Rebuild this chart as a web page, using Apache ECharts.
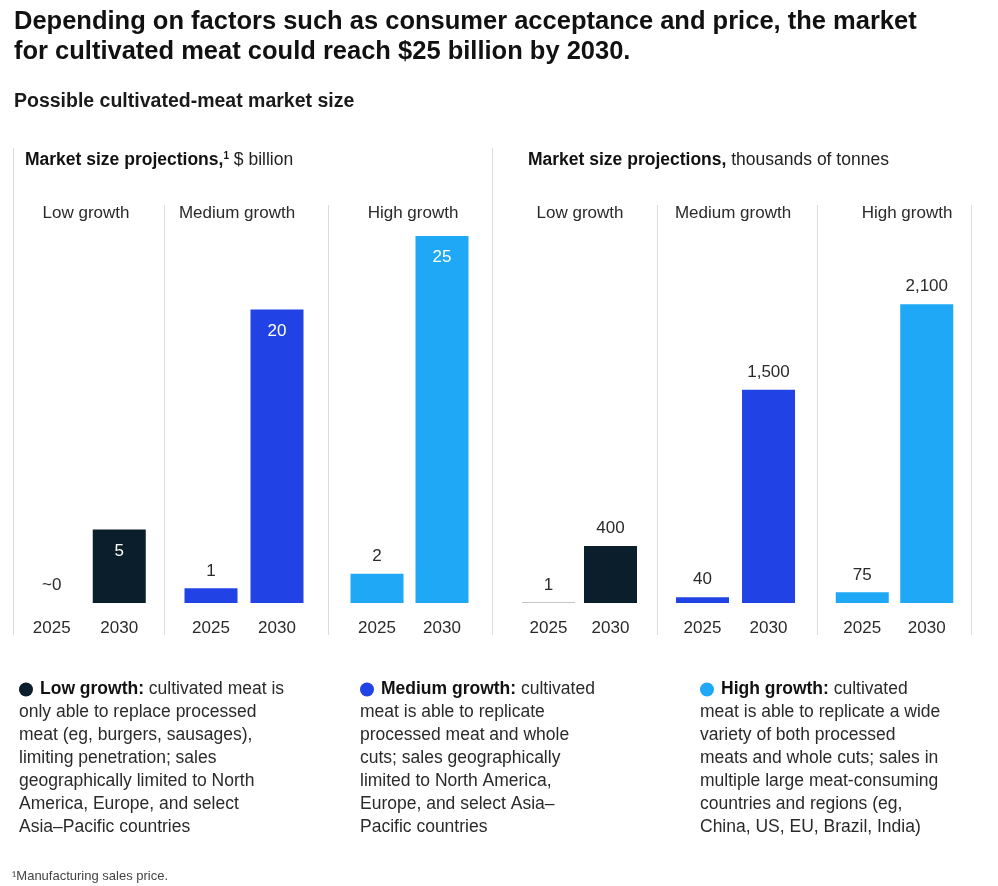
<!DOCTYPE html>
<html>
<head>
<meta charset="utf-8">
<script src="https://cdn.jsdelivr.net/npm/echarts@6/dist/echarts.min.js"></script>
<style>
html,body{margin:0;padding:0;background:#fff;}
#chart{width:998px;height:886px;}
</style>
</head>
<body>
<div id="chart"></div>
<script>
// ---- data ----
const years = ['2025', '2030'];
const scenarios = ['Low growth', 'Medium growth', 'High growth'];
const lowBillion = [0, 5];
const mediumBillion = [1, 20];
const highBillion = [2, 25];
const lowTonnes = [1, 400];
const mediumTonnes = [40, 1500];
const highTonnes = [75, 2100];

// ---- style / layout ----
const FONT = '"Liberation Sans", Arial, sans-serif';
const scenarioColors = ['#0b1e2b', '#2143e6', '#1fa8f5'];
const gridLefts = [18, 178, 344.5, 517.5, 669.5, 830];
const gridWidths = [135, 132, 130, 124, 132, 129];
const panelCenters = [86, 237, 413, 580, 733, 907];
const gridTop = 236, gridBottom = 283;
const billionMax = 25, tonnesMax = 2580;

const panels = [
  {data: lowBillion, color: 0, max: billionMax, inside: true},
  {data: mediumBillion, color: 1, max: billionMax, inside: true},
  {data: highBillion, color: 2, max: billionMax, inside: true},
  {data: lowTonnes, color: 0, max: tonnesMax, inside: false},
  {data: mediumTonnes, color: 1, max: tonnesMax, inside: false},
  {data: highTonnes, color: 2, max: tonnesMax, inside: false}
];

const fmt = v => v === 0 ? '~0' : v.toLocaleString('en-US');

const grid = [], xAxis = [], yAxis = [], series = [];
panels.forEach((p, i) => {
  grid.push({left: gridLefts[i], width: gridWidths[i], top: gridTop, bottom: gridBottom});
  xAxis.push({
    type: 'category', gridIndex: i, data: years,
    axisLine: {show: false}, axisTick: {show: false},
    axisLabel: {fontSize: 17, color: '#2a2a2a', margin: 17, fontFamily: FONT}
  });
  yAxis.push({type: 'value', gridIndex: i, min: 0, max: p.max, show: false, splitLine: {show: false}});
  series.push({
    type: 'bar', xAxisIndex: i, yAxisIndex: i, barWidth: 53,
    itemStyle: {color: scenarioColors[p.color]},
    data: p.data.map((v, j) => ({
      value: v,
      label: (p.inside && j === 1)
        ? {show: true, position: 'insideTop', distance: 13, color: '#fff', fontSize: 17, fontFamily: FONT, formatter: d => fmt(d.value)}
        : {show: true, position: 'top', distance: 9, color: '#2a2a2a', fontSize: 17, fontFamily: FONT, formatter: d => fmt(d.value)}
    }))
  });
});

const graphic = [];

// titles
graphic.push({type: 'text', left: 14, top: 7, style: {
  text: 'Depending on factors such as consumer acceptance and price, the market\nfor cultivated meat could reach $25 billion by 2030.',
  font: 'bold 25.5px ' + FONT, fill: '#111', lineHeight: 30}});
graphic.push({type: 'text', left: 14, top: 92, style: {
  text: 'Possible cultivated-meat market size', font: 'bold 19.5px ' + FONT, fill: '#1a1a1a'}});

// section headers
graphic.push({type: 'text', left: 25, top: 151, style: {
  text: '{b|Market size projections,}{sup|1} $ billion',
  font: '17.5px ' + FONT, fill: '#222',
  rich: {b: {fontWeight: 'bold', fontSize: 17.5, fontFamily: FONT, fill: '#111'},
         sup: {fontSize: 10, fontWeight: 'bold', fontFamily: FONT, fill: '#111', verticalAlign: 'top', padding: [0,0,7,0]}}}});
graphic.push({type: 'text', left: 528, top: 151, style: {
  text: '{b|Market size projections,} thousands of tonnes',
  font: '17.5px ' + FONT, fill: '#222',
  rich: {b: {fontWeight: 'bold', fontSize: 17.5, fontFamily: FONT, fill: '#111'}}}});

// scenario labels
panelCenters.forEach((cx, i) => {
  graphic.push({type: 'text', x: cx, y: 213, style: {
    text: scenarios[i % 3], font: '17px ' + FONT, fill: '#2a2a2a', align: 'center', verticalAlign: 'middle'}});
});

// separators
const vline = (x, y1, y2) => graphic.push({type: 'line', shape: {x1: x, y1: y1, x2: x, y2: y2},
  style: {stroke: '#dcdcdc', lineWidth: 1}});
vline(13.5, 148, 635);
vline(164.5, 205, 635);
vline(328.5, 205, 635);
vline(492.5, 148, 635);
vline(657.5, 205, 635);
vline(817.5, 205, 635);
vline(971.5, 205, 635);

// legend descriptions
const descs = [
  {x: 19, name: 'Low growth:', text: ' cultivated meat is\nonly able to replace processed\nmeat (eg, burgers, sausages),\nlimiting penetration; sales\ngeographically limited to North\nAmerica, Europe, and select\nAsia\u2013Pacific countries'},
  {x: 360, name: 'Medium growth:', text: ' cultivated\nmeat is able to replicate\nprocessed meat and whole\ncuts; sales geographically\nlimited to North America,\nEurope, and select Asia\u2013\nPacific countries'},
  {x: 700, name: 'High growth:', text: ' cultivated\nmeat is able to replicate a wide\nvariety of both processed\nmeats and whole cuts; sales in\nmultiple large meat-consuming\ncountries and regions (eg,\nChina, US, EU, Brazil, India)'}
];
descs.forEach((d, i) => {
  graphic.push({type: 'text', left: d.x, top: 678, style: {
    text: '{dot|}{b|' + d.name + '}' + d.text,
    font: '17.5px ' + FONT, fill: '#2a2a2a', lineHeight: 23,
    rich: {
      dot: {width: 14, height: 14, backgroundColor: scenarioColors[i], borderRadius: 7},
      b: {fontWeight: 'bold', fontSize: 17.5, fontFamily: FONT, fill: '#111', lineHeight: 23, padding: [0, 0, 0, 7]}
    }}});
});

// footnote
graphic.push({type: 'text', left: 12, top: 870, style: {
  text: '\u00b9Manufacturing sales price.', font: '13px ' + FONT, fill: '#444'}});

const chart = echarts.init(document.getElementById('chart'), null, {renderer: 'canvas'});
chart.setOption({
  backgroundColor: '#fff',
  animation: false,
  textStyle: {fontFamily: FONT},
  grid: grid, xAxis: xAxis, yAxis: yAxis, series: series,
  graphic: graphic
});
</script>
</body>
</html>
